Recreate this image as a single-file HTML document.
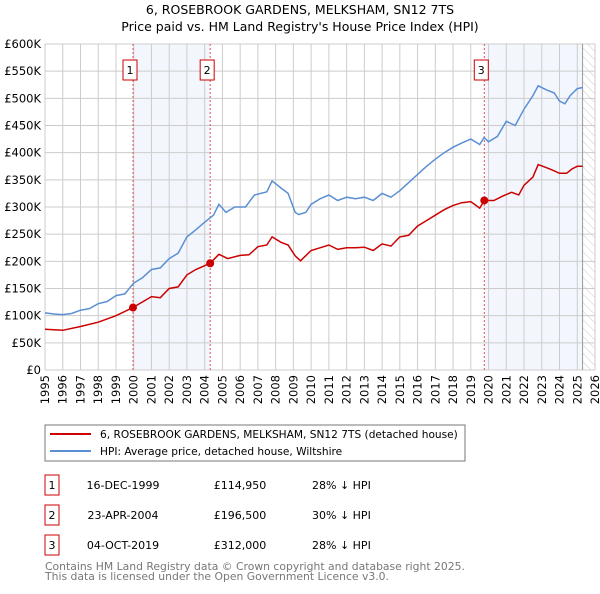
<!DOCTYPE html>
<html><head><meta charset="utf-8"><style>
body{margin:0;background:#fff;font-family:"DejaVu Sans","Liberation Sans",sans-serif;}
svg text{font-family:"DejaVu Sans","Liberation Sans",sans-serif;}
</style></head><body>
<svg id="c" width="600" height="590">
<defs><pattern id="hatch" width="6" height="6" patternUnits="userSpaceOnUse" patternTransform="rotate(-45)"><line x1="0" y1="0" x2="0" y2="6" stroke="#ccc" stroke-width="1"/></pattern></defs>
<text x="300" y="14" text-anchor="middle" font-size="12.5" fill="#000">6, ROSEBROOK GARDENS, MELKSHAM, SN12 7TS</text>
<text x="300" y="31" text-anchor="middle" font-size="12.5" fill="#000">Price paid vs. HM Land Registry's House Price Index (HPI)</text>
<g id="plot"></g>
<rect x="45" y="425" width="420" height="36" fill="#fff" stroke="#777"/>
<line x1="50" y1="434" x2="91" y2="434" stroke="#cc0000" stroke-width="2"/>
<text x="100" y="438" font-size="10.6">6, ROSEBROOK GARDENS, MELKSHAM, SN12 7TS (detached house)</text>
<line x1="50" y1="451" x2="91" y2="451" stroke="#5b8fd4" stroke-width="2"/>
<text x="100" y="455" font-size="10.6">HPI: Average price, detached house, Wiltshire</text>
<g id="table" font-size="11"></g>
<text x="45" y="570" font-size="10.8" fill="#777">Contains HM Land Registry data © Crown copyright and database right 2025.</text>
<text x="45" y="580" font-size="10.8" fill="#777">This data is licensed under the Open Government Licence v3.0.</text>
</svg>
<script>
const yTicks=[0,50,100,150,200,250,300,350,400,450,500,550,600];
const yTickLabels=["£0","£50K","£100K","£150K","£200K","£250K","£300K","£350K","£400K","£450K","£500K","£550K","£600K"];
const xYears=[1995,1996,1997,1998,1999,2000,2001,2002,2003,2004,2005,2006,2007,2008,2009,2010,2011,2012,2013,2014,2015,2016,2017,2018,2019,2020,2021,2022,2023,2024,2025,2026];
const hpiT=[1995,1995.5,1996,1996.5,1997,1997.5,1998,1998.5,1999,1999.5,2000,2000.5,2001,2001.5,2002,2002.5,2003,2003.5,2004,2004.5,2004.8,2005.2,2005.7,2006.3,2006.8,2007.5,2007.8,2008.3,2008.7,2009.1,2009.3,2009.7,2010,2010.5,2011,2011.5,2012,2012.5,2013,2013.5,2014,2014.5,2015,2015.5,2016,2016.5,2017,2017.5,2018,2018.5,2019,2019.5,2019.75,2020,2020.5,2021,2021.5,2022,2022.5,2022.8,2023.3,2023.7,2024,2024.3,2024.6,2025,2025.3];
const hpiV=[105,103,102,104,110,113,122,126,137,140,160,170,185,188,205,215,245,258,272,285,305,290,300,300,322,328,348,335,325,290,286,290,305,315,322,312,318,315,318,312,325,318,330,345,360,375,388,400,410,418,425,415,428,420,430,458,450,480,505,523,515,510,495,490,505,518,520];
const ppT=[1995,1996,1997,1998,1999,1999.96,2001,2001.5,2002,2002.5,2003,2003.5,2004,2004.31,2004.8,2005.3,2006,2006.5,2007,2007.5,2007.8,2008.3,2008.7,2009.1,2009.4,2010,2010.5,2011,2011.5,2012,2012.5,2013,2013.5,2014,2014.5,2015,2015.5,2016,2016.5,2017,2017.5,2018,2018.5,2019,2019.5,2019.76,2020.3,2020.8,2021.3,2021.7,2022,2022.5,2022.8,2023.3,2023.6,2024,2024.4,2024.7,2025,2025.3];
const ppV=[75,73,80,88,100,114.95,135,133,150,153,175,185,192,196.5,213,205,211,212,227,230,245,235,230,210,201,220,225,230,222,225,225,226,220,232,228,245,248,265,275,285,295,303,308,310,298,312,312,320,327,322,340,355,378,372,368,362,362,370,375,375];
const saleT=[1999.96,2004.31,2019.76];
const saleV=[114.95,196.5,312];
const saleLabels=["1","2","3"];
const saleDates=["16-DEC-1999","23-APR-2004","04-OCT-2019"];
const salePrices=["£114,950","£196,500","£312,000"];
const saleHpi=["28% ↓ HPI","30% ↓ HPI","28% ↓ HPI"];
const dataEnd=2025.3;

const NS="http://www.w3.org/2000/svg";
const L=45,R=595,T=44,B=370;
const x=t=>L+(t-1995)/(2026-1995)*(R-L);
const y=v=>B-v/600*(B-T);
function mk(tag,attrs,parent){const e=document.createElementNS(NS,tag);for(const k in attrs)e.setAttribute(k,attrs[k]);parent.appendChild(e);return e;}
const g=document.getElementById('plot');
let e;
e=mk('rect',{x:x(saleT[0]),y:T,width:x(saleT[1])-x(saleT[0]),height:B-T,fill:'#eef3fc',opacity:0.7},g);


e=mk('rect',{x:x(saleT[2]),y:T,width:x(dataEnd)-x(saleT[2]),height:B-T,fill:'#eef3fc',opacity:0.7},g);


e=mk('rect',{x:x(dataEnd),y:T,width:R-x(dataEnd),height:B-T,fill:'url(#hatch)'},g);


yTicks.forEach((v,i)=>{
  e=mk('line',{x1:L,x2:R,y1:y(v),y2:y(v),stroke:'#ccc'},g);
  
  
  e=mk('text',{x:L-4,y:y(v)+4,'text-anchor':'end','font-size':11.5},g);
  e.textContent=yTickLabels[i];
  
  
});
xYears.forEach(t=>{
  e=mk('line',{x1:x(t),x2:x(t),y1:T,y2:B,stroke:'#ccc'},g);
  
  
  e=mk('text',{x:0,y:0,'text-anchor':'end','font-size':11.5,transform:`translate(${x(t)+4},${B+5}) rotate(-90)`},g);
  e.textContent=t;
  
  
});
e=mk('line',{x1:x(dataEnd),x2:x(dataEnd),y1:T,y2:B,stroke:'#999'},g);


saleT.forEach((t,i)=>{
  e=mk('line',{x1:x(t),x2:x(t),y1:T,y2:B,stroke:'#e05050','stroke-dasharray':'2,2'},g);
  
  
  e=mk('rect',{x:x(t)-10,y:60,width:14,height:20,fill:'#fff',stroke:'#cc0000'},g);
  
  
  e=mk('text',{x:x(t)-3,y:74,'text-anchor':'middle','font-size':11},g);
  e.textContent=saleLabels[i];
  
  
});
function line(T_,V,col,name){
  const d=T_.map((t,i)=>(i?'L':'M')+x(t).toFixed(1)+','+y(V[i]).toFixed(1)).join('');
  const p=mk('path',{d:d,fill:'none',stroke:col,'stroke-width':1.5},g);
  
  
}
line(hpiT,hpiV,'#5b8fd4','hpi-line');
line(ppT,ppV,'#cc0000','price-paid-line');
saleT.forEach((t,i)=>{
  e=mk('circle',{cx:x(t),cy:y(saleV[i]),r:4,fill:'#cc0000'},g);
  
  
});
const tb=document.getElementById('table');
saleT.forEach((t,i)=>{
  const yy=483+i*30;
  e=mk('rect',{x:45,y:yy-8,width:14,height:20,fill:'#fff',stroke:'#cc0000'},tb);
  
  
  const cells=[[52,saleLabels[i],'middle'],[123,saleDates[i],'middle'],[240,salePrices[i],'middle'],[312,saleHpi[i],'start']];
  cells.forEach(c=>{
    e=mk('text',{x:c[0],y:yy+6,'text-anchor':c[2]},tb);
    e.textContent=c[1];
    
    
  });
});
</script>
</body></html>
